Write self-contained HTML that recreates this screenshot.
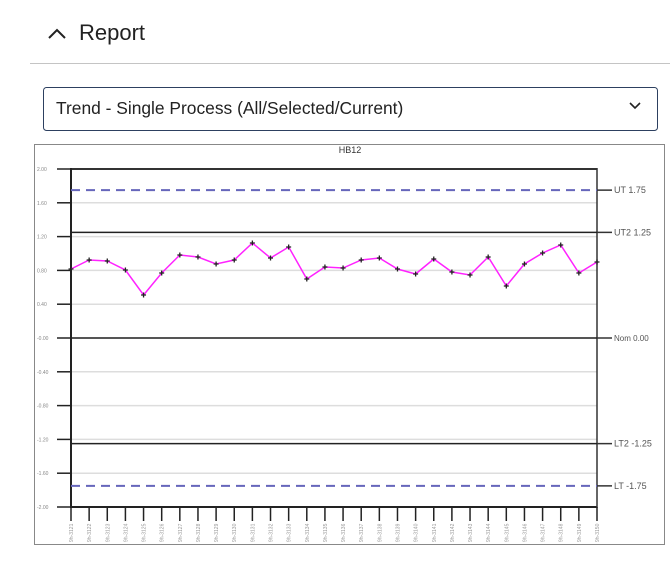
<!DOCTYPE html>
<html><head><style>
body{margin:0;width:670px;height:580px;background:#fff;font-family:"Liberation Sans",sans-serif;position:relative;overflow:hidden}
</style></head><body>
<svg width="670" height="580" style="position:absolute;left:0;top:0" font-family="Liberation Sans, sans-serif">
<polyline points="49,38 57,30 65,38" fill="none" stroke="#222" stroke-width="2"/>
<text x="79" y="40" font-size="22" fill="#222">Report</text>
<line x1="30" y1="63.5" x2="670" y2="63.5" stroke="#c4c4c4" stroke-width="1"/>
<rect x="43.5" y="87.5" width="614" height="43" rx="3" fill="#fff" stroke="#2d4060" stroke-width="1"/>
<text x="56" y="114" font-size="17.4" fill="#222">Trend - Single Process (All/Selected/Current)</text>
<polyline points="630,103 635,108 640,103" fill="none" stroke="#222" stroke-width="1.6"/>
<rect x="34.5" y="144.5" width="630" height="400" fill="#fff" stroke="#888" stroke-width="1"/>
<text x="350" y="153" font-size="9" fill="#333" text-anchor="middle">HB12</text>
</svg>
<script>
const svg=document.querySelector('svg');const ns='http://www.w3.org/2000/svg';
function el(t,a,txt){const e=document.createElementNS(ns,t);for(const k in a)e.setAttribute(k,a[k]);if(txt!=null)e.textContent=txt;svg.appendChild(e);return e;}
const Y=v=>338-v*84.5, x0=71,x1=597;
for(let i=0;i<=10;i++){const v=2-i*0.4,y=Y(v);
 el('line',{x1:x0,x2:x1,y1:y,y2:y,stroke:'#ddd','stroke-width':1.5});
 el('line',{x1:57,x2:x0,y1:y,y2:y,stroke:'#222','stroke-width':1.5});
 el('text',{x:37,y:y+2,'font-size':5,fill:'#888'},(v<0.001&&v>-0.001?'-0.00':v.toFixed(2)));}
el('line',{x1:x0,x2:x1,y1:Y(2),y2:Y(2),stroke:'#333','stroke-width':2});
el('line',{x1:x0,x2:x1,y1:Y(-2),y2:Y(-2),stroke:'#222','stroke-width':2});
el('line',{x1:x0,x2:x0,y1:Y(2)-1,y2:Y(-2)+1,stroke:'#222','stroke-width':2});
el('line',{x1:x1,x2:x1,y1:Y(2)-1,y2:Y(-2)+1,stroke:'#333','stroke-width':1.5});
[[1.75,'UT 1.75',1],[1.25,'UT2 1.25',0],[0,'Nom 0.00',0],[-1.25,'LT2 -1.25',0],[-1.75,'LT -1.75',1]].forEach(([v,t,d])=>{const y=Y(v);
 el('line',Object.assign({x1:x0,x2:x1,y1:y,y2:y,stroke:d?'#6666bb':'#222','stroke-width':d?2:1.5},d?{'stroke-dasharray':'9,6'}:{}));
 el('line',{x1:x1,x2:612,y1:y,y2:y,stroke:'#333','stroke-width':1.5});
 el('text',{x:614,y:y+3,'font-size':t.startsWith('Nom')?8:9,fill:'#555'},t);});
const ys=[269,260,261,270,295,273,255,257,264,260,243,258,247,279,267,268,260,258,269,274,259,272,275,257,286,264,253,245,273,262];
const dx=(x1-x0)/29;let pts=ys.map((y,i)=>(x0+i*dx).toFixed(1)+','+y).join(' ');
for(let i=0;i<30;i++){const x=x0+i*dx;el('line',{x1:x,x2:x,y1:507,y2:521,stroke:'#222','stroke-width':1.5});
 el('text',{x:0,y:0,'font-size':5,fill:'#999',transform:`translate(${x+2},542) rotate(-90)`},'9h-31'+(21+i));}
el('polyline',{points:pts,fill:'none',stroke:'#ff22ff','stroke-width':1.5});
ys.forEach((y,i)=>{const x=x0+i*dx;el('path',{d:`M${x-2.5},${y}h5M${x},${y-2.5}v5`,stroke:'#222','stroke-width':1.3});});
</script>
</body></html>
